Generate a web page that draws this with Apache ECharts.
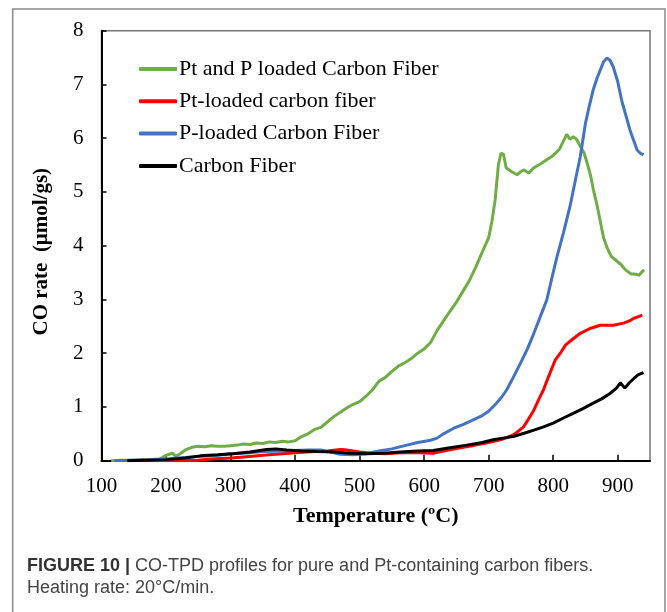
<!DOCTYPE html>
<html><head><meta charset="utf-8">
<script src="https://cdn.jsdelivr.net/npm/echarts@6/dist/echarts.min.js"></script>
<style>html,body{margin:0;padding:0;background:#fff;}#c{width:667px;height:612px;}</style>
</head><body><div id="c"></div>
<script>
const seriesNames = ['Pt and P loaded Carbon Fiber','Pt-loaded carbon fiber','P-loaded Carbon Fiber','Carbon Fiber'];
const seriesColors = ['#70ad47','#ff0000','#4472c4','#000000'];
const xTicks = [100,200,300,400,500,600,700,800,900];
const yTicks = [0,1,2,3,4,5,6,7,8];

const greenData = [[115,0.0],[130,0.01],[150,0.01],[170,0.02],[190,0.03],[200,0.1],[205,0.12],[210,0.14],[215,0.08],[222,0.13],[230,0.2],[240,0.25],[250,0.27],[260,0.26],[270,0.28],[280,0.27],[290,0.27],[300,0.28],[310,0.29],[320,0.31],[330,0.3],[340,0.33],[350,0.32],[360,0.35],[370,0.34],[380,0.36],[390,0.35],[400,0.37],[410,0.45],[420,0.5],[430,0.58],[435,0.6],[440,0.62],[450,0.72],[460,0.82],[470,0.9],[480,0.98],[490,1.05],[500,1.1],[510,1.2],[520,1.32],[530,1.48],[540,1.55],[550,1.66],[560,1.76],[570,1.82],[580,1.9],[590,2.0],[600,2.08],[610,2.2],[620,2.42],[630,2.6],[640,2.78],[650,2.95],[660,3.15],[670,3.35],[680,3.6],[690,3.88],[700,4.15],[705,4.45],[710,4.85],[715,5.5],[719,5.72],[723,5.7],[727,5.45],[735,5.38],[744,5.32],[750,5.38],[755,5.41],[762,5.35],[770,5.45],[780,5.52],[790,5.6],[800,5.68],[810,5.8],[816,5.95],[821,6.07],[826,5.98],[831,6.03],[836,5.98],[842,5.85],[848,5.72],[853,5.52],[858,5.3],[863,5.0],[868,4.75],[873,4.45],[878,4.15],[884,3.95],[890,3.8],[898,3.72],[905,3.65],[912,3.55],[920,3.48],[928,3.47],[933,3.45],[938,3.52],[941,3.55]];

const redData = [[130,0],[160,0.01],[200,0.0],[230,0.0],[250,0.01],[270,0.03],[300,0.05],[330,0.08],[350,0.1],[380,0.13],[400,0.15],[430,0.17],[450,0.18],[470,0.21],[480,0.2],[500,0.16],[520,0.14],[540,0.13],[563,0.15],[590,0.15],[614,0.14],[630,0.18],[656,0.24],[675,0.28],[692,0.32],[705,0.35],[718,0.39],[728,0.43],[738,0.48],[746,0.55],[754,0.63],[762,0.78],[770,0.94],[778,1.15],[785,1.32],[790,1.48],[795,1.63],[803,1.87],[811,2.0],[819,2.15],[829,2.25],[842,2.37],[857,2.46],[873,2.52],[893,2.52],[909,2.56],[918,2.6],[925,2.65],[932,2.68],[938,2.71]];

const blueData = [[120,0],[150,0.01],[180,0.02],[200,0.03],[220,0.05],[250,0.08],[280,0.1],[300,0.13],[330,0.15],[350,0.17],[380,0.18],[400,0.19],[420,0.2],[440,0.2],[455,0.16],[470,0.12],[490,0.11],[510,0.13],[530,0.18],[550,0.22],[570,0.28],[590,0.34],[610,0.38],[620,0.42],[630,0.5],[645,0.6],[660,0.67],[671,0.73],[690,0.84],[700,0.92],[712,1.07],[720,1.18],[728,1.32],[736,1.5],[744,1.69],[752,1.88],[760,2.08],[770,2.37],[780,2.68],[790,2.99],[798,3.4],[806,3.8],[816,4.25],[826,4.73],[834,5.2],[842,5.66],[850,6.28],[856,6.6],[862,6.9],[868,7.12],[873,7.27],[878,7.42],[883,7.49],[888,7.45],[893,7.33],[900,7.05],[906,6.71],[912,6.45],[919,6.15],[925,5.95],[930,5.78],[935,5.72],[940,5.69]];

const blackData = [[140,0],[170,0.01],[200,0.02],[230,0.05],[253,0.09],[280,0.11],[304,0.13],[330,0.16],[356,0.21],[370,0.22],[387,0.2],[410,0.18],[434,0.17],[460,0.16],[485,0.14],[510,0.13],[537,0.14],[563,0.16],[590,0.18],[614,0.19],[640,0.24],[666,0.29],[690,0.34],[707,0.39],[722,0.42],[738,0.45],[755,0.51],[770,0.57],[785,0.63],[800,0.7],[815,0.79],[831,0.88],[846,0.97],[862,1.07],[875,1.15],[888,1.25],[898,1.35],[904,1.45],[911,1.35],[918,1.45],[925,1.53],[932,1.6],[940,1.64]];

const allData = [greenData, redData, blueData, blackData];
const serif = '"Liberation Serif","Times New Roman",serif';
const sans = '"Liberation Sans",Arial,sans-serif';

const chart = echarts.init(document.getElementById('c'), null, {renderer:'canvas'});
chart.setOption({
  backgroundColor: '#ffffff',
  animation: false,
  grid: {left: 101.5, top: 30.7, right: 17, bottom: 151.3, show: true, borderColor: '#777', borderWidth: 1.5, backgroundColor: 'transparent'},
  legend: {
    orient: 'vertical', left: 134, top: 53, itemWidth: 38, itemHeight: 4, itemGap: 10.3,
    icon: 'roundRect',
    textStyle: {fontFamily: serif, fontSize: 22, color: '#000', lineHeight: 22, padding: [0,0,0,-3]},
    data: seriesNames.map((n,i)=>({name:n, itemStyle:{color:seriesColors[i]}}))
  },
  xAxis: {
    type: 'value', min: 100, max: 950, interval: 100,
    name: 'Temperature (ºC)', nameLocation: 'middle', nameGap: 45,
    nameTextStyle: {fontFamily: serif, fontSize: 22, fontWeight: 'bold', color: '#000'},
    axisLine: {show: true, lineStyle: {color: '#000', width: 2}},
    axisTick: {show: true, inside: true, length: 6, lineStyle: {color: '#000', width: 1.5}},
    axisLabel: {fontFamily: serif, fontSize: 21, color: '#000', margin: 15, showMaxLabel: false,
      formatter: v => xTicks.includes(v) ? String(v) : ''},
    splitLine: {show: false}
  },
  yAxis: {
    type: 'value', min: 0, max: 8, interval: 1,
    name: 'CO rate  (μmol/gs)', nameLocation: 'middle', nameGap: 49,
    nameTextStyle: {fontFamily: serif, fontSize: 21, fontWeight: 'bold', color: '#000', padding: [0,12,0,0]},
    axisLine: {show: true, lineStyle: {color: '#000', width: 2}},
    axisTick: {show: true, inside: true, length: 5, lineStyle: {color: '#000', width: 1.5}},
    axisLabel: {fontFamily: serif, fontSize: 21, color: '#000', margin: 18,
      formatter: v => yTicks.includes(v) ? String(v) : ''},
    splitLine: {show: false}
  },
  series: allData.map((d,i)=>({
    name: seriesNames[i], type: 'line', data: d, showSymbol: false, symbol: 'none',
    lineStyle: {color: seriesColors[i], width: 3}, itemStyle: {color: seriesColors[i]}, z: 2+i
  })),
  graphic: [
    {type: 'rect', shape: {x: 12.7, y: 9, width: 652.3, height: 620}, style: {fill: 'none', stroke: '#8a8a8a', lineWidth: 1.5}, silent: true},
    {type: 'text', left: 27, top: 557, style: {
      text: '{b|FIGURE 10 |} CO-TPD profiles for pure and Pt-containing carbon fibers.',
      rich: {b: {fontFamily: sans, fontSize: 18, fontWeight: 'bold', fill: '#333'}},
      fontFamily: sans, fontSize: 18, fill: '#444'}},
    {type: 'text', left: 27, top: 579, style: {text: 'Heating rate: 20°C/min.',
      fontFamily: sans, fontSize: 18, fill: '#444'}}
  ]
});
</script></body></html>
